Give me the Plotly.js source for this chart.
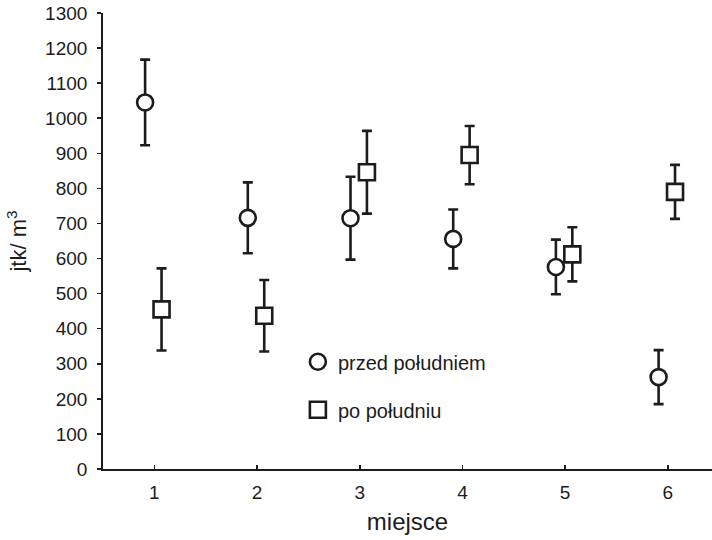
<!DOCTYPE html>
<html>
<head>
<meta charset="utf-8">
<script src="https://cdn.plot.ly/plotly-3.0.1.min.js"></script>
<style>html,body{margin:0;padding:0;background:#fff;}#chart{width:712px;height:540px;}</style>
</head>
<body>
<div id="chart"></div>
<script>
// Data
const places = [1, 2, 3, 4, 5, 6];
const tickLabels = ['1', '2', '3', '4', '5', '6'];
const beforeNoon = [1045, 716, 715, 656, 576, 262];
const beforeNoonErr = [122, 101, 118, 84, 78, 77];
const afterNoon = [455, 437, 846, 895, 612, 790];
const afterNoonErr = [117, 102, 118, 83, 77, 77];
const seriesNames = ['przed południem', 'po południu'];

const ink = '#1c1c1c';
const FONT = 'Liberation Sans, Arial, sans-serif';
const offBefore = -0.09, offAfter = 0.07;

const traces = [
  {
    x: places.map(p => p + offBefore), y: beforeNoon,
    name: seriesNames[0], legendgroup: 'a',
    type: 'scatter', mode: 'markers',
    marker: {symbol: 'circle', size: 16, color: '#fff', line: {color: ink, width: 2.6}},
    error_y: {type: 'data', array: beforeNoonErr, visible: true, color: ink, thickness: 2.6, width: 5}
  },
  {
    x: places.map(p => p + offAfter), y: afterNoon,
    name: seriesNames[1], legendgroup: 'b',
    type: 'scatter', mode: 'markers',
    marker: {symbol: 'square', size: 16, color: '#fff', line: {color: ink, width: 2.6}},
    error_y: {type: 'data', array: afterNoonErr, visible: true, color: ink, thickness: 2.6, width: 5}
  }
];

const layout = {
  width: 712, height: 540,
  margin: {l: 103, r: 0, t: 13, b: 71},
  paper_bgcolor: '#fff', plot_bgcolor: '#fff',
  font: {family: FONT, color: ink, size: 19},
  showlegend: true,
  legend: {
    x: 0.32, y: 0.278, xanchor: 'left', yanchor: 'top',
    font: {family: FONT, size: 20, color: ink},
    traceorder: 'grouped', tracegroupgap: 19,
    bgcolor: 'rgba(0,0,0,0)'
  },
  xaxis: {
    range: [0.5, 6.43],
    tickmode: 'array', tickvals: places, ticktext: tickLabels,
    ticks: 'inside', ticklen: 4, tickwidth: 1.5, tickcolor: ink,
    showline: true, linecolor: ink, linewidth: 1.8,
    showgrid: false, zeroline: false,
    tickfont: {family: FONT, size: 19, color: ink},
    ticklabelstandoff: 5,
    title: {text: 'miejsce', font: {family: FONT, size: 24, color: ink}, standoff: 12}
  },
  yaxis: {
    range: [0, 1300],
    tickmode: 'linear', tick0: 0, dtick: 100,
    ticks: 'outside', ticklen: 4, tickwidth: 1.5, tickcolor: ink,
    showline: true, linecolor: ink, linewidth: 1.8,
    showgrid: false, zeroline: false,
    tickfont: {family: FONT, size: 19, color: ink},
    ticklabelstandoff: 6,
    title: {text: 'jtk/ m<sup>3</sup>', font: {family: FONT, size: 22, color: ink}, standoff: 12}
  }
};

Plotly.newPlot('chart', traces, layout, {displayModeBar: false, staticPlot: true});
</script>
</body>
</html>
